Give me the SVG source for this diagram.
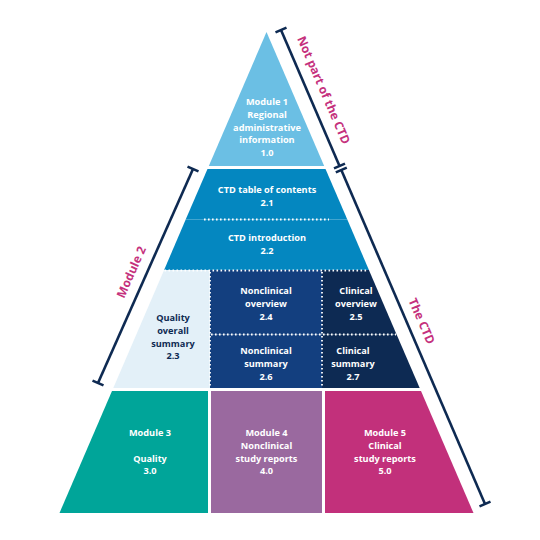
<svg xmlns="http://www.w3.org/2000/svg" width="540" height="540" viewBox="0 0 540 540">
<style>
.t{font-family:"Open Sans","Liberation Sans",sans-serif;font-weight:700;font-size:9.2px;text-anchor:middle;fill:#ffffff}
.d{fill:#0e2a52}
.lab{font-family:"Open Sans","Liberation Sans",sans-serif;font-weight:700;font-size:12px;text-anchor:middle;fill:#c5317d}
.dot{stroke:#ffffff;stroke-width:1.8;stroke-dasharray:1.6 2.4;fill:none}
.br{stroke:#0e2a52;stroke-width:2.6;fill:none;stroke-linecap:butt}
</style>
<rect width="540" height="540" fill="#ffffff"/>
<g id="module1">
<polygon points="266.5,32 324.2,166 208.8,166" fill="#6bbfe4"/>
<text class="t" x="267" y="105">Module 1</text>
<text class="t" x="267" y="117.8">Regional</text>
<text class="t" x="267" y="130.6">administrative</text>
<text class="t" x="267" y="143.4">information</text>
<text class="t" x="267" y="156.2">1.0</text>
</g>
<g id="ctd-toc">
<polygon points="207.5,169 325.5,169 347.3,219.5 185.7,219.5" fill="#0487c0"/>
<text class="t" x="267" y="193.3">CTD table of contents</text>
<text class="t" x="267" y="206">2.1</text>
</g>
<g id="ctd-intro">
<polygon points="185.7,219.5 347.3,219.5 368.9,270 164.1,270" fill="#0487c0"/>
<text class="t" x="267" y="241.3">CTD introduction</text>
<text class="t" x="267" y="254">2.2</text>
</g>
<g id="quality-summary">
<polygon points="164.1,270 210,270 210,388 113.3,388" fill="#e3f0f8"/>
<text class="t d" x="173" y="321">Quality</text>
<text class="t d" x="173" y="333.7">overall</text>
<text class="t d" x="173" y="346.5">summary</text>
<text class="t d" x="173" y="359.3">2.3</text>
</g>
<g id="nonclinical-overview">
<rect x="210" y="270" width="112" height="64.5" fill="#133f7f"/>
<text class="t" x="266" y="294">Nonclinical</text>
<text class="t" x="266" y="307">overview</text>
<text class="t" x="266" y="320">2.4</text>
</g>
<g id="nonclinical-summary">
<rect x="210" y="334.5" width="112" height="53.5" fill="#133f7f"/>
<text class="t" x="266" y="354">Nonclinical</text>
<text class="t" x="266" y="366.7">summary</text>
<text class="t" x="266" y="379.5">2.6</text>
</g>
<g id="clinical-overview">
<polygon points="322,270 368.9,270 396.6,334.5 322,334.5" fill="#0d2a53"/>
<text class="t" x="356" y="294">Clinical</text>
<text class="t" x="356" y="307">overview</text>
<text class="t" x="356" y="320">2.5</text>
</g>
<g id="clinical-summary">
<polygon points="322,334.5 396.6,334.5 419.7,388 322,388" fill="#0d2a53"/>
<text class="t" x="353" y="354">Clinical</text>
<text class="t" x="353" y="366.7">summary</text>
<text class="t" x="353" y="379.5">2.7</text>
</g>
<g id="module3">
<polygon points="112,391 208,391 208,513 59.5,513" fill="#00a599"/>
<text class="t" x="150" y="436">Module 3</text>
<text class="t" x="150" y="461.5">Quality</text>
<text class="t" x="150" y="474">3.0</text>
</g>
<g id="module4">
<rect x="211" y="391" width="111" height="122" fill="#9a699f"/>
<text class="t" x="266.5" y="436">Module 4</text>
<text class="t" x="266.5" y="449">Nonclinical</text>
<text class="t" x="266.5" y="461.5">study reports</text>
<text class="t" x="266.5" y="474">4.0</text>
</g>
<g id="module5">
<polygon points="325,391 421,391 473.5,513 325,513" fill="#c2307b"/>
<text class="t" x="385" y="436">Module 5</text>
<text class="t" x="385" y="449">Clinical</text>
<text class="t" x="385" y="461.5">study reports</text>
<text class="t" x="385" y="474">5.0</text>
</g>
<g id="dividers">
<line class="dot" x1="204" y1="219.5" x2="329" y2="219.5"/>
<line class="dot" x1="164.5" y1="270.5" x2="368.5" y2="270.5"/>
<line class="dot" x1="210" y1="272" x2="210" y2="388"/>
<line class="dot" x1="322" y1="272" x2="322" y2="388"/>
<line class="dot" x1="211" y1="334.5" x2="396" y2="334.5"/>
</g>
<g id="connectors">
<g id="bracket-not-ctd">
<line class="br" x1="281" y1="30" x2="339.5" y2="166"/>
<line class="br" x1="275.5" y1="32.4" x2="286.5" y2="27.6"/>
<line class="br" x1="334" y1="168.4" x2="345" y2="163.6"/>
<text class="lab" transform="translate(324,90) rotate(66.7)" y="4.5">Not part of the CTD</text>
</g>
<g id="bracket-ctd">
<line class="br" x1="341.3" y1="170" x2="485" y2="504"/>
<line class="br" x1="335.8" y1="172.4" x2="346.8" y2="167.6"/>
<line class="br" x1="479.5" y1="506.4" x2="490.5" y2="501.6"/>
<text class="lab" transform="translate(422,321) rotate(66.7)" y="4.5">The CTD</text>
</g>
<g id="bracket-module2">
<line class="br" x1="193" y1="169" x2="98" y2="383"/>
<line class="br" x1="187.5" y1="166.6" x2="198.5" y2="171.4"/>
<line class="br" x1="92.5" y1="380.6" x2="103.5" y2="385.4"/>
<text class="lab" transform="translate(131,272) rotate(-66.1)" y="4.5">Module 2</text>
</g>
</g>
</svg>
